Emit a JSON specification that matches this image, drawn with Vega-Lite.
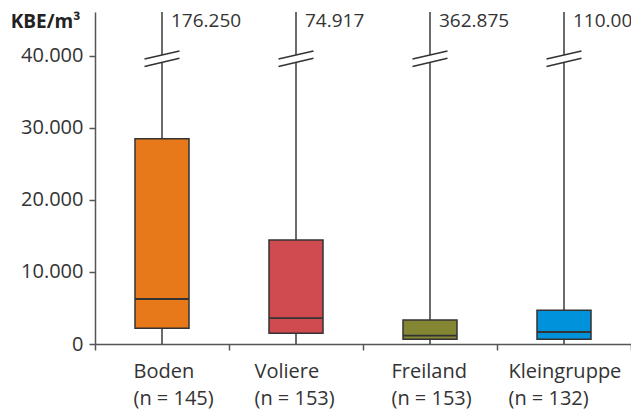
{
  "$schema": "https://vega.github.io/schema/vega-lite/v6.json",
  "width": 536,
  "height": 332,
  "autosize": {"type": "none"},
  "padding": {"left": 95, "top": 12, "right": 0, "bottom": 68},
  "background": "white",
  "config": {"view": {"stroke": null}, "font": "Open Sans"},
  "data": {
    "values": [
      {"category": "Boden (n = 145)", "min": 0, "q1": 2200, "median": 6250, "q3": 28500, "max": 176250, "maxLabel": "176.250"},
      {"category": "Voliere (n = 153)", "min": 0, "q1": 1500, "median": 3600, "q3": 14450, "max": 74917, "maxLabel": "74.917"},
      {"category": "Freiland (n = 153)", "min": 0, "q1": 650, "median": 1150, "q3": 3330, "max": 362875, "maxLabel": "362.875"},
      {"category": "Kleingruppe (n = 132)", "min": 0, "q1": 650, "median": 1670, "q3": 4680, "max": 110000, "maxLabel": "110.000"}
    ]
  },
  "encoding": {
    "x": {
      "field": "category",
      "type": "nominal",
      "sort": null,
      "scale": {"paddingInner": 0, "paddingOuter": 0},
      "axis": {
        "title": null,
        "labelAngle": 0,
        "labelExpr": "isString(datum.label) && indexof(datum.label, ' (') > 0 ? [split(datum.label, ' (')[0], '(' + split(datum.label, ' (')[1]] : ''",
        "labelAlign": "left",
        "labelBaseline": "alphabetic",
        "labelOffset": {
          "condition": [
            {"test": "datum.value === 'Boden (n = 145)'", "value": -29},
            {"test": "datum.value === 'Voliere (n = 153)'", "value": -42},
            {"test": "datum.value === 'Freiland (n = 153)'", "value": -39},
            {"test": "datum.value === 'Kleingruppe (n = 132)'", "value": -56}
          ],
          "value": 0
        },
        "labelPadding": 27,
        "labelLineHeight": 27,
        "labelFontSize": 20,
        "labelColor": "#333333",
        "labelOverlap": false,
        "labelFlush": false,
        "labelBound": false,
        "tickBand": "extent",
        "tickSize": 6,
        "tickColor": "#555555",
        "tickWidth": 1.5,
        "domainColor": "#555555",
        "domainWidth": 1.5,
        "grid": false
      }
    }
  },
  "layer": [
    {
      "mark": {"type": "rule", "color": "#3a3a3a", "strokeWidth": 1.5, "clip": true},
      "encoding": {
        "y": {
          "field": "min",
          "type": "quantitative",
          "scale": {"domain": [0, 46111], "nice": false},
          "axis": {
            "title": "KBE/m³",
            "titleAngle": 0,
            "titleX": -50,
            "titleY": 9,
            "titleAlign": "center",
            "titleBaseline": "middle",
            "titleFontWeight": "bold",
            "titleFontSize": 19,
            "titleColor": "#222222",
            "values": [0, 10000, 20000, 30000, 40000],
            "labelExpr": "replace(format(datum.value, ','), ',', '.')",
            "labelFontSize": 20,
            "labelColor": "#333333",
            "labelPadding": 6,
            "tickSize": 6,
            "tickColor": "#555555",
            "tickWidth": 1.5,
            "domainColor": "#555555",
            "domainWidth": 1.5,
            "grid": false
          }
        },
        "y2": {"field": "max"}
      }
    },
    {
      "mark": {"type": "point", "shape": "M -1 0.02 L 1 -0.44 L 1 -0.02 L -1 0.44 Z", "size": 1225, "filled": true, "fill": "white", "strokeWidth": 0, "opacity": 1},
      "encoding": {"y": {"datum": 39625, "type": "quantitative"}}
    },
    {
      "mark": {"type": "point", "shape": "M -1 0.02 L 1 -0.44 M -1 0.44 L 1 -0.02", "size": 1225, "filled": false, "stroke": "#333333", "strokeWidth": 1.5, "opacity": 1},
      "encoding": {"y": {"datum": 39625, "type": "quantitative"}}
    },
    {
      "mark": {"type": "bar", "size": 54, "stroke": "#333333", "strokeWidth": 1.5, "opacity": 1},
      "encoding": {
        "y": {"field": "q1", "type": "quantitative"},
        "y2": {"field": "q3"},
        "color": {
          "field": "category",
          "type": "nominal",
          "sort": null,
          "scale": {"range": ["#E8791A", "#CF4B4F", "#848634", "#0093DB"]},
          "legend": null
        }
      }
    },
    {
      "mark": {"type": "tick", "size": 54, "thickness": 1.8, "color": "#333333", "opacity": 1},
      "encoding": {"y": {"field": "median", "type": "quantitative"}}
    },
    {
      "mark": {"type": "text", "align": "left", "baseline": "middle", "dx": 9, "fontSize": 19, "color": "#333333"},
      "encoding": {
        "y": {"datum": 44860, "type": "quantitative"},
        "text": {"field": "maxLabel"}
      }
    }
  ]
}
